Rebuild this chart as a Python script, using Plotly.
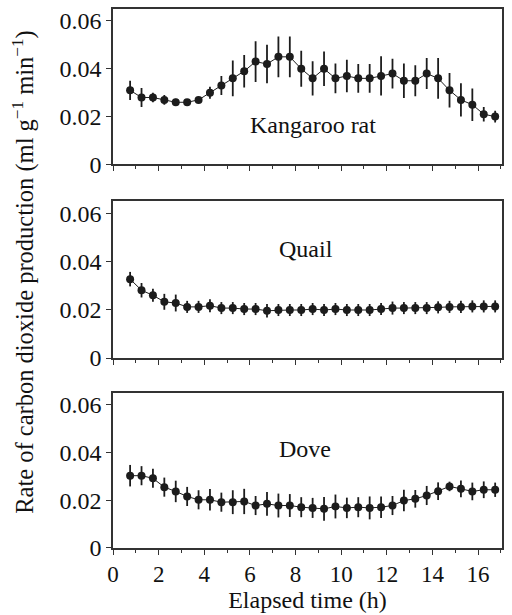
import plotly.graph_objects as go

# ---- data ----
time_h = [0.75, 1.25, 1.75, 2.25, 2.75, 3.25, 3.75, 4.25, 4.75, 5.25, 5.75,
          6.25, 6.75, 7.25, 7.75, 8.25, 8.75, 9.25, 9.75, 10.25, 10.75,
          11.25, 11.75, 12.25, 12.75, 13.25, 13.75, 14.25, 14.75, 15.25,
          15.75, 16.25, 16.75]

rat_mean = [0.031, 0.028, 0.028, 0.027, 0.026, 0.026, 0.027, 0.030, 0.033,
            0.036, 0.039, 0.043, 0.042, 0.045, 0.045, 0.040, 0.036, 0.040,
            0.036, 0.037, 0.036, 0.036, 0.037, 0.038, 0.035, 0.035, 0.038,
            0.036, 0.031, 0.027, 0.025, 0.021, 0.020]
rat_err = [0.004, 0.004, 0.002, 0.002, 0.0015, 0.001, 0.0012, 0.0025, 0.004,
           0.0075, 0.0068, 0.0085, 0.008, 0.0085, 0.0085, 0.0075, 0.0072,
           0.0072, 0.0062, 0.0068, 0.006, 0.006, 0.0082, 0.0062, 0.0072,
           0.0065, 0.0065, 0.0085, 0.0072, 0.007, 0.0068, 0.003, 0.0025]

quail_mean = [0.0327, 0.0281, 0.0260, 0.0233, 0.0228, 0.0212, 0.0212, 0.0217,
              0.0207, 0.0207, 0.0203, 0.0203, 0.0196, 0.0199, 0.0199, 0.0199,
              0.0203, 0.0199, 0.0203, 0.0199, 0.0199, 0.0199, 0.0203, 0.0207,
              0.0207, 0.0207, 0.0207, 0.0210, 0.0212, 0.0212, 0.0214, 0.0214,
              0.0214]
quail_err = [0.003, 0.003, 0.0027, 0.0033, 0.0035, 0.0025, 0.0025, 0.0027,
             0.0025, 0.0025, 0.0025, 0.0025, 0.0028, 0.0025, 0.0025, 0.0025,
             0.0025, 0.0025, 0.0025, 0.0025, 0.0025, 0.0025, 0.0025, 0.0027,
             0.0025, 0.0025, 0.0025, 0.0025, 0.0025, 0.0025, 0.0025, 0.0025,
             0.0025]

dove_mean = [0.0303, 0.0303, 0.0292, 0.0255, 0.0237, 0.0216, 0.0202, 0.0202,
             0.0192, 0.0192, 0.0195, 0.0178, 0.0185, 0.0178, 0.0178, 0.0171,
             0.0168, 0.0164, 0.0174, 0.0168, 0.0171, 0.0168, 0.0171, 0.0178,
             0.0199, 0.0206, 0.0220, 0.0238, 0.0258, 0.0248, 0.0237, 0.0244,
             0.0244]
dove_err = [0.0045, 0.004, 0.004, 0.004, 0.0045, 0.004, 0.004, 0.0045, 0.004,
            0.005, 0.0053, 0.004, 0.005, 0.005, 0.0048, 0.0042, 0.0042, 0.005,
            0.005, 0.0043, 0.0042, 0.0048, 0.0045, 0.004, 0.0045, 0.0037,
            0.004, 0.0037, 0.002, 0.0035, 0.0037, 0.0035, 0.003]

species = ["Kangaroo rat", "Quail", "Dove"]
label_pos = [(8.75, 0.0163), (8.45, 0.0451), (8.4, 0.0415)]

y_ticks = [0, 0.02, 0.04, 0.06]
y_ticktext = ["0", "0.02", "0.04", "0.06"]
x_major = [0, 2, 4, 6, 8, 10, 12, 14, 16]
x_top_ticks = [1, 3, 5, 7, 9, 11, 13, 15, 17]

# ---- styling ----
INK = "#1c1c1c"
AX = "#333333"
FONT = "Times New Roman, Liberation Serif, DejaVu Serif, serif"
domains = [(0.7116, 1.0), (0.3525, 0.6433), (0.0, 0.2878)]
XR = [0, 17.05]
YR = [0, 0.065]

fig = go.Figure()
series = [(rat_mean, rat_err), (quail_mean, quail_err), (dove_mean, dove_err)]

for i, (m, e) in enumerate(series):
    n = i + 1
    fig.add_trace(go.Scatter(
        x=time_h, y=m, mode="lines+markers",
        xaxis=f"x{n}" if n > 1 else "x", yaxis=f"y{n}" if n > 1 else "y",
        line=dict(color=INK, width=1),
        marker=dict(color=INK, size=8),
        error_y=dict(type="data", array=e, visible=True, width=0,
                     thickness=1.8, color=INK),
        showlegend=False, hoverinfo="skip",
    ))

layout = dict(
    width=512, height=615,
    margin=dict(l=113, r=10, t=7, b=67),
    paper_bgcolor="white", plot_bgcolor="white",
    font=dict(family=FONT, color="#111111", size=23),
    annotations=[],
)

for i in range(3):
    n = i + 1
    xk = "xaxis" if n == 1 else f"xaxis{n}"
    yk = "yaxis" if n == 1 else f"yaxis{n}"
    xa = "x" if n == 1 else f"x{n}"
    ya = "y" if n == 1 else f"y{n}"
    layout[xk] = dict(
        domain=[0, 1], anchor=ya, range=XR, showgrid=False, zeroline=False,
        showline=True, linecolor=AX, linewidth=1.5, mirror=True,
        ticks="outside", ticklen=5, tickwidth=1.2, tickcolor=AX,
        tickvals=x_major, ticktext=[str(v) for v in x_major],
        showticklabels=(n == 3),
        minor=dict(dtick=1, ticks="outside", ticklen=3, tickwidth=1,
                   tickcolor=AX, showgrid=False),
        tickfont=dict(size=23, family=FONT),
    )
    if n == 3:
        layout[xk]["title"] = dict(text="Elapsed time (h)",
                                   font=dict(size=24, family=FONT), standoff=3)
    layout[yk] = dict(
        domain=list(domains[i]), anchor=xa, range=YR, showgrid=False,
        zeroline=False, showline=True, linecolor=AX, linewidth=1.5,
        mirror=True, ticks="outside", ticklen=5, tickwidth=1.2, tickcolor=AX,
        tickvals=y_ticks, ticktext=y_ticktext,
        tickfont=dict(size=24, family=FONT),
    )
    # inward ticks along the top edge
    tk = f"xaxis{n + 3}"
    layout[tk] = dict(
        overlaying=xa, anchor=ya, side="top", range=XR, showgrid=False,
        zeroline=False, showline=False, ticks="inside", ticklen=3,
        tickwidth=1, tickcolor=AX, tickvals=x_top_ticks,
        showticklabels=False,
    )
    lx, ly = label_pos[i]
    layout["annotations"].append(dict(
        x=lx, y=ly, xref=xa, yref=ya, text=species[i], showarrow=False,
        font=dict(size=24, family=FONT, color="#111111"),
        xanchor="center", yanchor="middle",
    ))

layout["annotations"].append(dict(
    x=-0.232, y=0.512, xref="paper", yref="paper",
    text="Rate of carbon dioxide production (ml g<sup>−1</sup> min<sup>−1</sup>)",
    textangle=-90, showarrow=False, xanchor="center", yanchor="middle",
    font=dict(size=24.5, family=FONT, color="#111111"),
))

fig.update_layout(**layout)
fig.write_html("out.html")
